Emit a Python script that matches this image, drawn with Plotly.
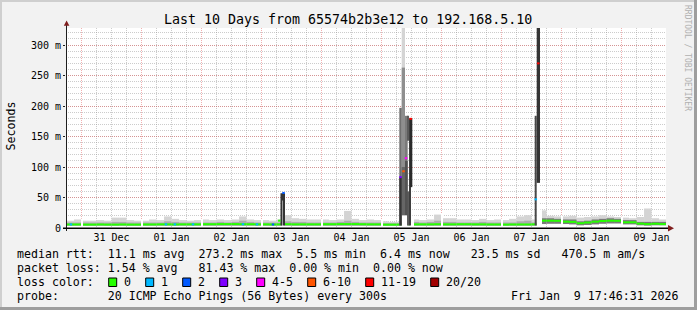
import pandas as pd
import plotly.graph_objects as go

# ------------------------------------------------------------------ data
T_START = "2025-12-30 17:46:31"
T_END = "2026-01-09 17:46:31"
BIN_START = "2025-12-30 18:00:00"   # 3-hour consolidated bins

# median rtt per 3h bin (ms)
median_ms = [
    5.8, 5.8,
    5.6, 5.6, 5.8, 5.6, 5.6, 5.8, 5.6, 5.6,
    5.8, 5.8, 6.0, 6.0, 5.8, 6.0, 6.0, 6.0,
    6.2, 6.2, 6.4, 6.4, 6.4, 6.2, 6.2, 6.0,
    6.0, 5.8, 6.0, 6.2, 6.0, 6.0, 6.0, 6.0,
    6.2, 6.2, 6.4, 6.4, 6.4, 6.2, 6.0, 6.0,
    5.5, 5.5, 5.6, 5.8, 6.0, 6.0, 6.0, 6.2,
    6.0, 6.0, 6.2, 6.2, 6.0, 6.0, 5.8, 5.8,
    5.6, 5.8, 5.8, 5.8, 6.0, 12.0, 12.0, 11.8,
    10.4, 10.0, 7.8, 9.0, 10.4, 11.5, 12.0, 11.8,
    9.4, 9.4, 7.2, 6.4, 7.0, 6.4,
]
# smoke: lowest ping, top of dense core, highest ping (ms)
smoke_lo_ms = [
    3.5, 3.5,
    3.5, 3.5, 3.5, 3.5, 3.5, 3.5, 3.5, 3.5,
    3.5, 3.5, 3.5, 3.5, 3.5, 3.5, 3.5, 3.5,
    3.5, 3.5, 3.5, 3.5, 3.5, 3.5, 3.5, 3.5,
    3.5, 3.5, 3.5, 3.5, 3.5, 3.5, 3.5, 3.5,
    3.5, 3.5, 3.5, 3.5, 3.5, 3.5, 3.5, 3.5,
    3.5, 3.5, 3.5, 3.5, 3.5, 3.5, 3.5, 3.5,
    3.5, 3.5, 3.5, 3.5, 3.5, 3.5, 3.5, 3.5,
    3.5, 3.5, 3.5, 3.5, 3.5, 6.5, 7.0, 7.0,
    6.5, 6.0, 4.5, 5.0, 6.0, 7.0, 7.5, 7.5,
    6.0, 6.0, 4.5, 4.0, 4.5, 4.5,
]
smoke_mid_ms = [
    9, 9,
    9, 9, 9, 9, 10, 10, 9, 9,
    9, 9, 9, 11, 10, 9, 9, 9,
    9, 9, 10, 9, 10, 12, 10, 9,
    9, 9, 9, 11, 10, 10, 9, 9,
    9, 9, 10, 12, 10, 9, 9, 9,
    8, 8, 8, 8, 10, 9, 10, 12,
    10, 10, 9, 9, 9, 10, 9, 9,
    9, 9, 11, 12, 9, 16, 16, 15,
    14, 14, 11, 12, 14, 15, 16, 15,
    13, 13, 10, 10, 10, 10,
]
smoke_hi_ms = [
    12, 14,
    12, 12, 13, 12, 17, 17, 13, 12,
    12, 14, 13, 19, 15, 13, 12, 13,
    14, 13, 14, 13, 14, 19, 14, 13,
    13, 12, 14, 21, 16, 15, 14, 14,
    14, 13, 14, 28, 15, 13, 14, 13,
    11, 10, 10, 11, 14, 13, 14, 22,
    16, 16, 14, 14, 13, 15, 13, 14,
    13, 15, 19, 21, 14, 29, 20, 19,
    19, 20, 17, 18, 19, 21, 19, 18,
    17, 16, 18, 32, 16, 14,
]
# pings (of 20) inside the dense core of each bin
core_pings = [
    6, 6,
    6, 6, 6, 6, 6, 6, 6, 6,
    6, 6, 6, 6, 6, 6, 6, 6,
    6, 6, 6, 6, 6, 6, 6, 6,
    6, 6, 6, 6, 6, 6, 6, 6,
    6, 6, 6, 6, 6, 6, 6, 6,
    6, 6, 6, 6, 6, 6, 6, 6,
    6, 6, 6, 6, 6, 6, 6, 6,
    6, 6, 6, 6, 6, 11, 11, 11,
    11, 11, 11, 11, 11, 11, 11, 11,
    11, 11, 11, 11, 11, 11,
]

# high-latency episodes at native resolution (start, minutes, lo ms, hi ms, pings in band)
spike_start = [
    "2026-01-03 07:34", "2026-01-03 08:22", "2026-01-03 08:46",
    "2026-01-05 07:06", "2026-01-05 07:06",
    "2026-01-05 08:03", "2026-01-05 08:03", "2026-01-05 08:03",
    "2026-01-05 09:22", "2026-01-05 09:22",
    "2026-01-05 10:27", "2026-01-05 10:27",
    "2026-01-05 10:59", "2026-01-05 11:23",
    "2026-01-07 13:15", "2026-01-07 14:03",
]
spike_minutes = [48, 24, 36, 58, 58, 79, 79, 79, 65, 65, 31, 31, 24, 55, 48, 79]
spike_lo_ms = [4, 45, 4, 4, 4, 21, 21, 21, 21, 21, 143, 4, 4, 67, 4, 74]
spike_hi_ms = [57, 57, 57, 197, 83, 345, 263, 100, 184, 110, 184, 60, 180, 180, 184, 345]
spike_pings = [18, 18, 18, 12, 18, 2, 9, 13, 11, 15, 14, 14, 17, 19, 16, 18]

# samples whose median was drawn in a loss colour
loss_time = [
    "2025-12-30 19:45", "2026-01-01 09:45", "2026-01-01 13:20", "2026-01-01 20:35",
    "2026-01-02 16:35", "2026-01-02 22:10", "2026-01-03 04:35", "2026-01-03 07:06",
    "2026-01-03 08:47", "2026-01-05 07:35", "2026-01-05 08:47", "2026-01-05 09:47",
    "2026-01-05 11:39", "2026-01-07 13:42", "2026-01-07 14:42",
]
loss_ms = [5.8, 6.0, 6.0, 6.0, 6.2, 6.0, 5.8, 12.0, 57.5, 83.5, 93.0, 114.5, 179.0, 47.0, 270.0]
loss_class = [1, 1, 1, 1, 1, 1, 2, 0, 2, 3, 5, 4, 6, 1, 6]

# unknown (missing) samples
missing_time = [
    "2025-12-31 00:00", "2026-01-01 00:00", "2026-01-02 00:00", "2026-01-03 00:00",
    "2026-01-04 00:00", "2026-01-05 00:00", "2026-01-06 00:00", "2026-01-07 00:00",
    "2026-01-08 00:00", "2026-01-09 00:00", "2026-01-05 12:23", "2026-01-07 15:22",
    "2026-01-07 15:46",
]

loss_labels = ["0", "1", "2", "3", "4-5", "6-10", "11-19", "20/20"]
loss_colors = ["#26ff00", "#00b8ff", "#0059ff", "#7e00ff", "#ff00ff", "#ff5500", "#ff0000", "#a10000"]

y_tick_vals = [0, 50, 100, 150, 200, 250, 300]
y_tick_text = ["0", "50 m", "100 m", "150 m", "200 m", "250 m", "300 m"]

title_text = "Last 10 Days from 65574b2b3e12 to 192.168.5.10"
legend_lines = [
    "median rtt:  11.1 ms avg  273.2 ms max  5.5 ms min  6.4 ms now   23.5 ms sd   470.5 m am/s",
    "packet loss: 1.54 % avg   81.43 % max  0.00 % min  0.00 % now",
    "loss color:",
    "probe:       20 ICMP Echo Pings (56 Bytes) every 300s",
]
stamp_text = "Fri Jan  9 17:46:31 2026"

# ------------------------------------------------------------------ layout helpers
W, H = 697, 310
PL, PR, PT, PB = 66, 666, 28, 228
Y_MAX = 328
MONO = "DejaVu Sans Mono"
LINE_MS = Y_MAX / (PB - PT)  # half of a 2px line, in ms


def fx(x):
    return (x - PL) / (PR - PL)


def fy(y):
    return (PB - y) / (PB - PT)


def gray(p):
    v = int(round(232 - 10 * p))
    return f"rgb({v},{v},{v})"


def ts(t):
    return pd.Timestamp(t).strftime("%Y-%m-%d %H:%M:%S")


fig = go.Figure()


def add_bars(x, base, top, width, color):
    fig.add_trace(go.Bar(
        x=list(x), base=list(base), y=[t - b for t, b in zip(top, base)],
        width=width, marker=dict(color=color, line=dict(width=0)), opacity=1,
        hoverinfo="skip", showlegend=False,
    ))


BIN = pd.Timedelta(hours=3)
bins = pd.date_range(BIN_START, periods=len(median_ms), freq="3h")
centers = [ts(b + BIN / 2) for b in bins]
bw = 3 * 3600 * 1000

# smoke
add_bars(centers, smoke_lo_ms, smoke_hi_ms, bw, gray(2))
add_bars(centers, smoke_lo_ms, smoke_mid_ms, bw, [gray(p) for p in core_pings])
# median line (no loss)
add_bars(centers, [m - LINE_MS for m in median_ms], [m + LINE_MS for m in median_ms], bw, loss_colors[0])

# unknown samples
gap_x, gap_top = [], []
for t in missing_time:
    tt = pd.Timestamp(t)
    i = int((tt - pd.Timestamp(BIN_START)) // BIN)
    nb = [smoke_hi_ms[j] for j in (i - 1, i) if 0 <= j < len(smoke_hi_ms)]
    gap_x.append(ts(tt))
    gap_top.append(max(nb) + 1)
add_bars(gap_x, [0] * len(gap_x), gap_top, 24 * 60000, "#ffffff")

# high-latency columns: clear below, then bands light->dark (one trace per band)
col_min = {}
for s, m, lo in zip(spike_start, spike_minutes, spike_lo_ms):
    key = (s, m)
    col_min[key] = min(lo, col_min.get(key, 1e9))
cx = [ts(pd.Timestamp(s) + pd.Timedelta(minutes=m / 2)) for (s, m) in col_min]
cw = [m * 60000 for (s, m) in col_min]
add_bars(cx, [0] * len(cx), list(col_min.values()), cw, "#ffffff")
for i in sorted(range(len(spike_start)), key=lambda k: spike_pings[k]):
    add_bars([ts(pd.Timestamp(spike_start[i]) + pd.Timedelta(minutes=spike_minutes[i] / 2))],
             [spike_lo_ms[i]], [spike_hi_ms[i]], spike_minutes[i] * 60000, gray(spike_pings[i]))
# medians with loss colour
for t, v, c in zip(loss_time, loss_ms, loss_class):
    add_bars([ts(t)], [v - LINE_MS], [v + LINE_MS], 60 * 60000, loss_colors[c])

GRID = "rgba(143,143,143,0.45)"
MGRID = "rgba(222,79,79,0.45)"
DASH = "1px,1px"

fig.update_layout(
    width=W, height=H, margin=dict(l=PL, r=W - PR, t=PT, b=H - PB, pad=0),
    paper_bgcolor="#f2f2f2", plot_bgcolor="#ffffff", barmode="overlay",
    showlegend=False, font=dict(family=MONO, color="#000000"),
)
fig.update_xaxes(
    type="date", range=[T_START, T_END], tick0="2025-12-31", dtick=86400000,
    ticklabelmode="period", tickformat="%d %b", showgrid=True, gridcolor=MGRID,
    griddash=DASH, gridwidth=1, ticks="", showline=False, zeroline=False,
    tickfont=dict(family=MONO, size=10, color="#000000"), ticklabelstandoff=2,
    minor=dict(showgrid=True, dtick=21600000, tick0="2025-12-31", gridcolor=GRID, griddash=DASH, gridwidth=1),
    fixedrange=True,
)
fig.update_yaxes(
    range=[0, Y_MAX], tickmode="array", tickvals=y_tick_vals, ticktext=y_tick_text,
    showgrid=True, gridcolor=MGRID, griddash=DASH, gridwidth=1,
    minor=dict(showgrid=True, dtick=10, tick0=0, gridcolor=GRID, griddash=DASH, gridwidth=1),
    ticks="outside", ticklen=2, tickcolor="#1f1f1f", tickwidth=1,
    showline=False, zeroline=False, tickfont=dict(family=MONO, size=10, color="#000000"),
    fixedrange=True,
)

shapes = []
# frame shading
shapes += [
    dict(type="rect", x0=fx(0), x1=fx(W), y0=fy(0), y1=fy(2), fillcolor="#cfcfcf"),
    dict(type="rect", x0=fx(0), x1=fx(2), y0=fy(0), y1=fy(H), fillcolor="#cfcfcf"),
    dict(type="rect", x0=fx(0), x1=fx(W), y0=fy(H - 3), y1=fy(H), fillcolor="#9e9e9e"),
    dict(type="rect", x0=fx(W - 3), x1=fx(W), y0=fy(0), y1=fy(H), fillcolor="#9e9e9e"),
]
for s in shapes:
    s.update(xref="paper", yref="paper", line=dict(width=0), layer="above")
# axes + arrows
shapes += [
    dict(type="line", xref="paper", yref="paper", x0=fx(66.5), x1=fx(66.5), y0=fy(231), y1=fy(24),
         line=dict(color="#1f1f1f", width=1), layer="above"),
    dict(type="line", xref="paper", yref="paper", x0=fx(63), x1=fx(669), y0=fy(228.3), y1=fy(228.3),
         line=dict(color="#000000", width=1.6), layer="above"),
    dict(type="path", xref="paper", yref="paper",
         path=f"M {fx(668)},{fy(225)} L {fx(674)},{fy(228.3)} L {fx(668)},{fy(231.6)} Z",
         fillcolor="#801f1f", line=dict(width=0), layer="above"),
    dict(type="path", xref="paper", yref="paper",
         path=f"M {fx(63.8)},{fy(25.8)} L {fx(66.6)},{fy(20.5)} L {fx(69.4)},{fy(25.8)} Z",
         fillcolor="#801f1f", line=dict(width=0), layer="above"),
]

NB = "\u00a0"
ann = []


def text(t, x, y, size, xanchor="left", angle=0, color="#000000", family=MONO):
    ann.append(dict(text=t.replace(" ", NB), x=fx(x), y=fy(y), xref="paper", yref="paper",
                    xanchor=xanchor, yanchor="middle", showarrow=False, textangle=angle,
                    font=dict(family=family, size=size, color=color), borderpad=0))


CH = 7.0  # monospace advance of the legend font
text(title_text, 348, 19, 13.3, xanchor="center")
text("Seconds", 10.5, 126, 11.6, xanchor="center", angle=-90)
text("RRDTOOL / TOBI OETIKER", 688, 58, 8, xanchor="center", angle=90, color="#b0b0b0")
for i, line in enumerate(legend_lines):
    text(line, 16, 254 + 14 * i, 11.6)
text(stamp_text, 680, 296, 11.6, xanchor="right")

# loss-colour legend boxes
x = 108.7
for lab, col in zip(loss_labels, loss_colors):
    shapes.append(dict(type="rect", xref="paper", yref="paper", x0=fx(x), x1=fx(x + 8),
                       y0=fy(278), y1=fy(286.5), fillcolor=col,
                       line=dict(color="#000000", width=1), layer="above"))
    text(lab, x + 14.6, 282, 11.6)
    x += 14.6 + CH * len(lab) + 15.4

fig.update_layout(shapes=shapes, annotations=ann)
fig.write_html("out.html", config={"displayModeBar": False})
